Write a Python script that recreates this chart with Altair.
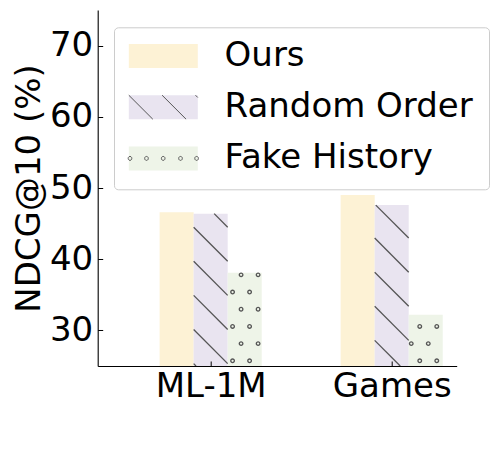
import json
import altair as alt
import pandas as pd

# ---------------- data ----------------
DATASETS = ["ML-1M", "Games"]
SERIES = ["Ours", "Random Order", "Fake History"]
OURS = [46.6, 49.0]
RANDOM_ORDER = [46.4, 47.6]
FAKE_HISTORY = [38.1, 32.2]
Y_TICKS = [30, 40, 50, 60, 70]

# ---------------- style ----------------
COLORS = ["#fdf2d5", "#e9e4f0", "#eef4e8"]
HATCH = "#555555"
FONT = "DejaVu Sans"
FS = 34
W, H = 359, 356
Y_MIN, Y_MAX = 25, 75
BAR_W = 0.188
X_DOMAIN = [-0.624, 1.359]

# bar table
VALUES = [OURS, RANDOM_ORDER, FAKE_HISTORY]
PATTERN_KEYS = [s + " " for s in SERIES]   # separate (non-merged) pattern legend
rows = []
for g, name in enumerate(DATASETS):
    for k, s in enumerate(SERIES):
        c = g + (k - 1) * BAR_W
        rows.append(dict(dataset=name, series=s, pattern=PATTERN_KEYS[k], value=VALUES[k][g],
                         x0=c - BAR_W / 2, x1=c + BAR_W / 2, xc=c, base=Y_MIN))
bars_df = pd.DataFrame(rows)

# diagonal hatch ("\\") for Random Order bars, clipped to each bar
D = 4.79      # y-units dropped across one bar width (45 degrees on screen)
K = 42.1      # pattern phase
segs = []
for r in rows:
    if r["series"] != "Random Order":
        continue
    xl, xr, T, B = r["x0"], r["x1"], r["value"], Y_MIN
    for n in range(-40, 40):
        yl = K + n * D - (xl / BAR_W) * D
        yr = yl - D
        if yr >= T or yl <= B:
            continue
        xs, ys = xl, yl
        if yl > T:
            xs, ys = xl + (yl - T) / D * BAR_W, T
        xe, ye = xr, yr
        if yr < B:
            xe, ye = xl + (yl - B) / D * BAR_W, B
        segs.append(dict(xs=xs, xe=xe, ys=ys, ye=ye))
hatch_df = pd.DataFrame(segs)

# dotted pattern for Fake History bars
DOT_Y0, DOT_DY = 37.80, 2.414
DOT_DX = BAR_W / 2
DOT_X_EVEN, DOT_X_ODD = 0.168, 0.121
dots = []
for r in rows:
    if r["series"] != "Fake History":
        continue
    xl, xr, T = r["x0"], r["x1"], r["value"]
    for k in range(-10, 10):
        y = DOT_Y0 - k * DOT_DY
        if not (Y_MIN < y < T - 0.2):
            continue
        x0 = DOT_X_EVEN if k % 2 == 0 else DOT_X_ODD
        for j in range(-40, 40):
            x = x0 + j * DOT_DX
            if xl + 0.01 < x < xr - 0.01:
                dots.append(dict(x=x, y=y))
dots_df = pd.DataFrame(dots)

# ---------------- legend symbol paths ----------------
S = 16.0                      # px per unit (symbolSize 1024)
hw, hh = 34.5 / S, 12 / S
EXT = f" M0,{16.9 / S:.3f} M{311.8 / S:.3f},0"
CORNERS = f"M{-hw:.3f},{-hh:.3f} M{hw:.3f},{hh:.3f}"
RECT = f"M{-hw:.3f},{-hh:.3f} L{hw:.3f},{-hh:.3f} L{hw:.3f},{hh:.3f} L{-hw:.3f},{hh:.3f} Z" + EXT


def px(v):
    return v / S - hw


LINES = " ".join(
    f"M{px(a):.3f},{-hh:.3f} L{px(b):.3f},{ye:.3f}"
    for a, b, ye in [(0, 24, hh), (33.3, 57.3, hh), (66.7, 69, -hh + 2.3 / S)]
)
R = 1.8 / S
CIRCLES = " ".join(
    f"M{px(c) - R:.3f},0 a{R:.3f},{R:.3f} 0 1,0 {2 * R:.3f},0 a{R:.3f},{R:.3f} 0 1,0 {-2 * R:.3f},0"
    for c in [1.2, 17.7, 34.4, 51.7, 67.8]
)
PATTERN_PATHS = [CORNERS + EXT, CORNERS + " " + LINES + EXT, CORNERS + " " + CIRCLES + EXT]

LEG_X, LEG_Y = 16.3, 17.3
common_leg = dict(orient="none", legendX=LEG_X, legendY=LEG_Y, title=None,
                  symbolSize=1024, symbolStrokeWidth=1, symbolOffset=20.6,
                  labelOffset=44.3, rowPadding=15.2, padding=11.7,
                  labelFont=FONT, labelFontSize=FS, labelLimit=500)
legend_fill = alt.Legend(
    symbolType=RECT, symbolStrokeColor="transparent", symbolOpacity=1,
    labelColor="black", strokeColor="#cccccc", fillColor="rgba(255,255,255,0.8)",
    cornerRadius=4, **common_leg,
)
legend_pattern = alt.Legend(
    labelColor="transparent", symbolStrokeColor=HATCH, symbolFillColor="transparent",
    symbolOpacity=1, **common_leg,
)

# ---------------- scales / axes ----------------
x_scale = alt.Scale(domain=X_DOMAIN, nice=False, zero=False)
y_scale = alt.Scale(domain=[Y_MIN, Y_MAX], nice=False, zero=False)

x_axis = alt.Axis(
    values=list(range(len(DATASETS))),
    labelExpr=f"{json.dumps(DATASETS)}[datum.value]",
    title=None, ticks=False, grid=True, gridDash=[0, H - 5, 5, 1000],
    gridColor="black", gridWidth=1, gridOpacity=1,
    domainColor="black", domainWidth=1.1,
    labelFont=FONT, labelFontSize=FS, labelColor="black", labelPadding=4,
    labelFlush=False, zindex=1,
)
y_axis = alt.Axis(
    values=Y_TICKS, title="NDCG@10 (%)", ticks=False, grid=True,
    gridDash=[5, 2000], gridColor="black", gridWidth=1, gridOpacity=1,
    domainColor="black", domainWidth=1.1,
    labelFont=FONT, labelFontSize=FS, labelColor="black", labelPadding=5,
    labelFlush=False,
    titleFont=FONT, titleFontSize=FS, titleFontWeight="normal", titleColor="black",
    titlePadding=3, zindex=1,
)


def X(field):
    return alt.X(field, type="quantitative", scale=x_scale, axis=x_axis, title=None)


def Y(field):
    return alt.Y(field, type="quantitative", scale=y_scale, axis=y_axis, title="NDCG@10 (%)")


bars = alt.Chart(bars_df).mark_bar().encode(
    x=X("x0"), x2="x1", y=Y("value"), y2="base",
    color=alt.Color("series:N", scale=alt.Scale(domain=SERIES, range=COLORS),
                    legend=legend_fill),
)

hatch = alt.Chart(hatch_df).mark_rule(color=HATCH, strokeWidth=1.3).encode(
    x=X("xs"), x2="xe", y=Y("ys"), y2="ye",
)

dots_layer = alt.Chart(dots_df).mark_point(
    shape="circle", size=13, filled=False, color=HATCH, strokeWidth=1.3, opacity=1
).encode(x=X("x"), y=Y("y"))

hidden = alt.Chart(bars_df).mark_point(opacity=0, color=HATCH, strokeWidth=1.2).encode(
    x=X("xc"), y=Y("value"),
    shape=alt.Shape("pattern:N", scale=alt.Scale(domain=PATTERN_KEYS, range=PATTERN_PATHS),
                    legend=legend_pattern),
)

chart = alt.layer(bars, hatch, dots_layer, hidden).properties(
    width=W, height=H,
    autosize=alt.AutoSizeParams(type="none"),
    padding={"left": 89.7, "top": 2, "right": 34, "bottom": 79},
    background="white",
).configure_view(stroke=None)

chart.save("out.html", embed_options={"renderer": "svg", "actions": False})
